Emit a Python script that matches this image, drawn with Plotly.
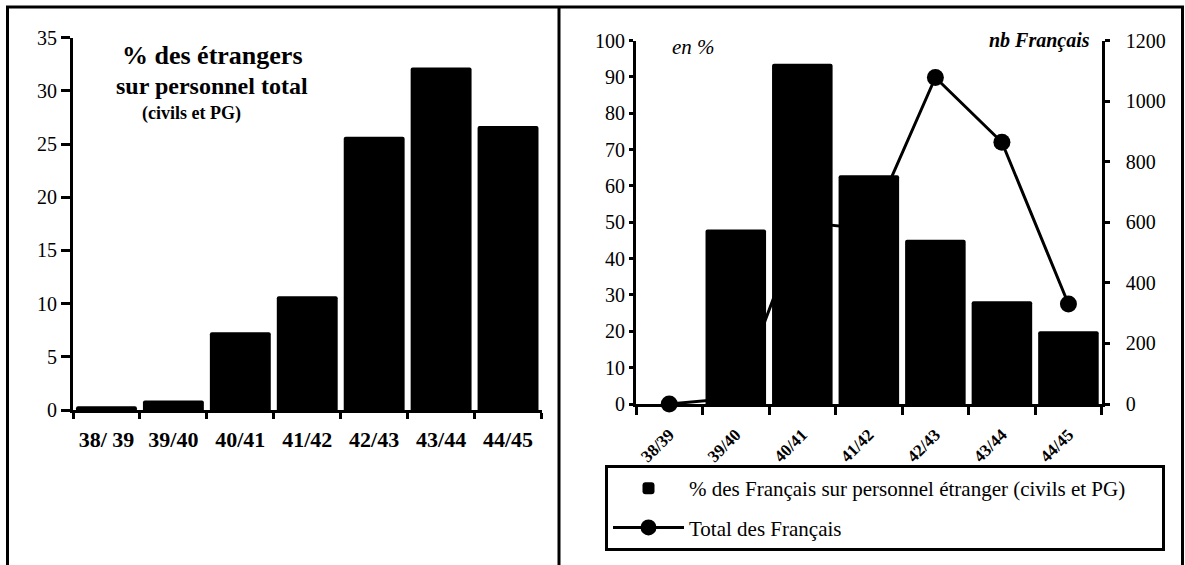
import plotly.graph_objects as go

W, H = 1185, 565


def px(x):
    return x / W


def py(y):
    return 1 - y / H


# ---------------- data ----------------
categories_left = ["38/ 39", "39/40", "40/41", "41/42", "42/43", "43/44", "44/45"]
pct_etrangers = [0.35, 0.9, 7.3, 10.7, 25.7, 32.2, 26.7]
left_yticks = [0, 5, 10, 15, 20, 25, 30, 35]

categories_right = ["38/39", "39/40", "40/41", "41/42", "42/43", "43/44", "44/45"]
pct_francais = [0, 48.0, 93.6, 62.9, 45.2, 28.3, 20.0]
nb_francais = [0, 20, 600, 578, 1078, 864, 330]
right_pct_ticks = [0, 10, 20, 30, 40, 50, 60, 70, 80, 90, 100]
right_nb_ticks = [0, 200, 400, 600, 800, 1000, 1200]

SERIF = "Liberation Serif"
BLACK = "black"
PAD = "\u00a0" * 6

fig = go.Figure()

# left chart bars
fig.add_trace(go.Bar(
    x=categories_left, y=pct_etrangers, xaxis="x", yaxis="y",
    marker=dict(color=BLACK, cornerradius=2, line=dict(width=0)),
    showlegend=False, hoverinfo="skip",
))

# right chart bars (overlay axis, drawn above the line)
fig.add_trace(go.Bar(
    x=categories_right, y=pct_francais, xaxis="x2", yaxis="y3",
    marker=dict(color=BLACK, cornerradius=2, line=dict(width=0)),
    name="% des Français sur personnel étranger (civils et PG)" + PAD,
    legendgroup="a", hoverinfo="skip",
))

# right chart line (base axis, drawn below bars)
fig.add_trace(go.Scatter(
    x=categories_right, y=nb_francais, xaxis="x2", yaxis="y2",
    mode="lines+markers", cliponaxis=False,
    line=dict(color=BLACK, width=3),
    marker=dict(color=BLACK, size=17),
    name="Total des Français", legendgroup="b", hoverinfo="skip",
))

tick_font = dict(family=SERIF, size=20, color=BLACK)
common = dict(showgrid=False, zeroline=False, tickcolor=BLACK, tickwidth=3,
              linecolor=BLACK, linewidth=3, automargin=False)
hidden = dict(showgrid=False, zeroline=False, showline=False, showticklabels=False,
              tickcolor=BLACK, tickwidth=3, automargin=False)

fig.update_layout(
    width=W, height=H, autosize=False,
    margin=dict(l=0, r=0, t=0, b=0, autoexpand=False),
    paper_bgcolor="white", plot_bgcolor="rgba(0,0,0,0)",
    font=dict(family=SERIF, color=BLACK),
    bargap=0.09,
    showlegend=True,
    # ---- left chart ----
    xaxis=dict(domain=[px(73), px(541.5)], anchor="y", type="category",
               categoryorder="array", categoryarray=categories_left,
               range=[-0.5, 6.5], ticks="outside", ticklen=6, tickson="boundaries",
               showline=True, ticklabelstandoff=8,
               tickfont=dict(family=SERIF, size=22, color=BLACK, weight="bold"),
               **common),
    yaxis=dict(domain=[py(410), py(37.7)], anchor="x", range=[0, 35],
               tickvals=left_yticks, ticks="outside", ticklen=9, showline=True,
               tickfont=tick_font, **common),
    xaxis3=dict(overlaying="x", anchor="y", type="linear", range=[-0.5, 6.5],
                tickmode="linear", tick0=-0.5, dtick=1, ticks="inside", ticklen=8,
                **hidden),
    yaxis4=dict(overlaying="y", anchor="x", range=[0, 35], tickvals=left_yticks,
                ticks="inside", ticklen=4, **hidden),
    # ---- right chart ----
    xaxis2=dict(domain=[px(636), px(1101.7)], anchor="y2", type="category",
                categoryorder="array", categoryarray=categories_right,
                range=[-0.5, 6.5], ticks="outside", ticklen=8, tickson="boundaries",
                showline=True, tickangle=-45, ticklabelstandoff=11,
                tickfont=dict(family=SERIF, size=17, color=BLACK, weight="bold"),
                **common),
    yaxis2=dict(domain=[py(404), py(40.5)], anchor="x2", side="right",
                range=[0, 1200], tickvals=right_nb_ticks, ticks="outside", ticklen=5,
                showline=True, ticklabelstandoff=12, tickfont=tick_font, **common),
    yaxis3=dict(overlaying="y2", anchor="x2", side="left", range=[0, 100],
                tickvals=right_pct_ticks, ticks="outside", ticklen=4, showline=True,
                tickfont=tick_font, **common),
    xaxis4=dict(overlaying="x2", anchor="y2", type="linear", range=[-0.5, 6.5],
                tickmode="linear", tick0=-0.5, dtick=1, ticks="inside", ticklen=4,
                **hidden),
    yaxis5=dict(overlaying="y2", anchor="x2", side="right", range=[0, 1200],
                tickvals=right_nb_ticks, ticks="inside", ticklen=5, **hidden),
    yaxis6=dict(overlaying="y2", anchor="x2", side="left", range=[0, 100],
                tickvals=right_pct_ticks, ticks="inside", ticklen=6, **hidden),
    legend=dict(x=px(605), y=py(465), xanchor="left", yanchor="top",
                bordercolor=BLACK, borderwidth=3, bgcolor="white",
                font=dict(family=SERIF, size=21, color=BLACK),
                traceorder="grouped", tracegroupgap=9, itemwidth=71),
)

ann = []
ann.append(dict(text="% des étrangers", x=px(212.5), y=py(55.8),
                font=dict(family=SERIF, size=26, color=BLACK, weight="bold")))
ann.append(dict(text="sur personnel total", x=px(212), y=py(85.8),
                font=dict(family=SERIF, size=24, color=BLACK, weight="bold")))
ann.append(dict(text="(civils et PG)", x=px(191.8), y=py(113.9),
                font=dict(family=SERIF, size=18, color=BLACK, weight="bold")))
ann.append(dict(text="en %", x=px(693.7), y=py(47),
                font=dict(family=SERIF, size=21, color=BLACK, style="italic")))
ann.append(dict(text="nb Français", x=px(1091.7), y=py(40), xanchor="right",
                font=dict(family=SERIF, size=20, color=BLACK, style="italic",
                          weight="bold")))
for a in ann:
    a.setdefault("xanchor", "center")
    a.update(xref="paper", yref="paper", yanchor="middle", showarrow=False)
fig.update_layout(annotations=ann)

# frame lines around the two panels
frame = [
    (px(6), py(7), px(1184), py(7)),
    (px(7.5), py(7), px(7.5), 0),
    (px(559), py(7), px(559), 0),
    (px(1182.5), py(7), px(1182.5), 0),
]
fig.update_layout(shapes=[
    dict(type="line", xref="paper", yref="paper", x0=a, y0=b, x1=c, y1=d,
         line=dict(color=BLACK, width=3))
    for a, b, c, d in frame
])

page_fix = (
    "document.documentElement.style.margin='0';"
    "document.body.style.margin='0';"
    "document.documentElement.style.overflow='hidden';"
    "document.body.style.overflow='hidden';"
)

fig.write_html("out.html", config={"displayModeBar": False}, post_script=page_fix)
